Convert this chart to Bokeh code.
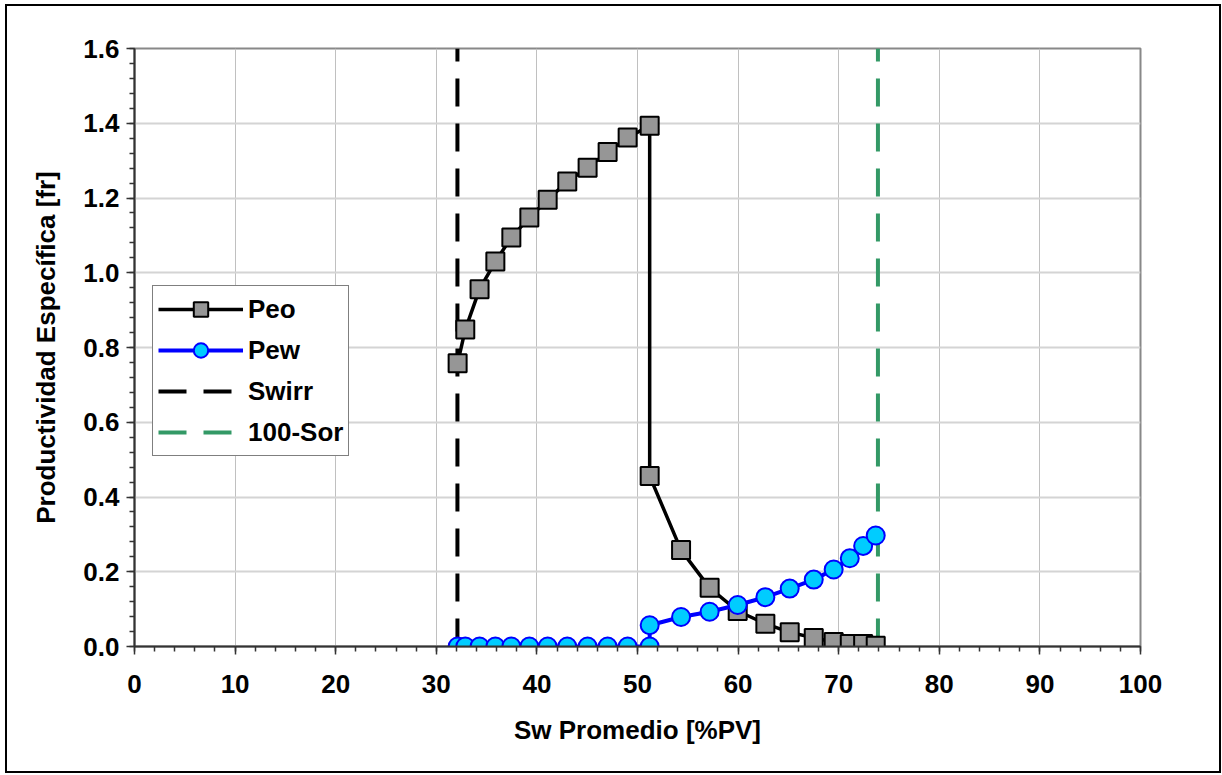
from bokeh.plotting import figure
from bokeh.layouts import column
from bokeh.models import (Range1d, FixedTicker, PrintfTickFormatter, Legend,
                          LegendItem)
from bokeh.embed import file_html
from bokeh.resources import INLINE

# ---- data ----
sw = [32.12, 32.88, 34.30, 35.87, 37.46, 39.25, 41.07, 43.02, 45.04, 47.03,
      49.02, 51.21, 51.21, 54.33, 57.17, 59.96, 62.71, 65.13, 67.52, 69.50,
      71.10, 72.43, 73.68]
peo = [0.758, 0.848, 0.956, 1.030, 1.094, 1.148, 1.195, 1.244, 1.281, 1.323,
       1.362, 1.393, 0.456, 0.258, 0.157, 0.095, 0.061, 0.038, 0.023, 0.012,
       0.007, 0.007, 0.002]
pew = [0.0, 0.0, 0.0, 0.0, 0.0, 0.0, 0.0, 0.0, 0.0, 0.0,
       0.0, 0.0, 0.057, 0.079, 0.093, 0.111, 0.132, 0.155, 0.179, 0.206,
       0.236, 0.269, 0.297]
swirr = 32.1
sor_line = 73.9
y_span = [0.0, 1.6]
x_ticks = [0, 10, 20, 30, 40, 50, 60, 70, 80, 90, 100]
y_ticks = [0.0, 0.2, 0.4, 0.6, 0.8, 1.0, 1.2, 1.4, 1.6]

FONT = "Liberation Sans"

p = figure(width=1212, height=765, x_range=Range1d(0, 100), y_range=Range1d(0, 1.6),
           output_backend="svg", toolbar_location=None,
           min_border_left=127, min_border_right=79, min_border_top=42,
           min_border_bottom=125)
p.background_fill_color = "white"
p.border_fill_color = "white"
p.outline_line_color = "#888888"
p.outline_line_width = 2

# grid
p.xgrid.grid_line_color = "#c0c0c0"
p.xgrid.grid_line_width = 1
p.ygrid.grid_line_color = "#d4d4d4"
p.ygrid.grid_line_width = 2

# axes
p.xaxis.ticker = FixedTicker(ticks=x_ticks, minor_ticks=list(range(0, 101, 2)))
p.yaxis.ticker = FixedTicker(ticks=y_ticks,
                             minor_ticks=[round(i * 0.04, 2) for i in range(41)])
p.yaxis.formatter = PrintfTickFormatter(format="%.1f")
for ax in (p.xaxis[0], p.yaxis[0]):
    ax.axis_line_color = "#333333"
    ax.axis_line_width = 2
    ax.major_tick_line_color = "#333333"
    ax.minor_tick_line_color = "#333333"
    ax.major_tick_line_width = 1.5
    ax.minor_tick_line_width = 1.5
    ax.major_tick_in = 0
    ax.major_tick_out = 8
    ax.minor_tick_in = 0
    ax.minor_tick_out = 5
    ax.major_label_text_font = FONT
    ax.major_label_text_font_style = "bold"
    ax.major_label_text_font_size = "26px"
    ax.major_label_text_color = "black"
    ax.axis_label_text_font = FONT
    ax.axis_label_text_font_style = "bold"
    ax.axis_label_text_font_size = "26px"
    ax.axis_label_text_color = "black"

p.xaxis.axis_label = "Sw Promedio [%PV]"
p.yaxis.axis_label = "Productividad Específica [fr]"
p.xaxis.major_label_standoff = 20
p.yaxis.major_label_standoff = 7
p.xaxis.axis_label_standoff = 19
p.yaxis.axis_label_standoff = 19

# vertical reference lines
r_swirr = p.line([swirr, swirr], y_span, line_color="black", line_width=4,
                 line_dash="28 17")
r_sor = p.line([sor_line, sor_line], y_span, line_color="#339966", line_width=4,
               line_dash="28 17")

# series
r_peo_l = p.line(sw, peo, line_color="black", line_width=3.5)
r_peo_m = p.scatter(sw, peo, marker="square", size=18, fill_color="#969696",
                    line_color="black", line_width=2)
r_pew_l = p.line(sw, pew, line_color="#0000ff", line_width=4)
r_pew_m = p.scatter(sw, pew, marker="circle", size=18, fill_color="#00ccff",
                    line_color="#0000ff", line_width=2)

legend = Legend(items=[
    LegendItem(label="Peo", renderers=[r_peo_l, r_peo_m]),
    LegendItem(label="Pew", renderers=[r_pew_l, r_pew_m]),
    LegendItem(label="Swirr", renderers=[r_swirr]),
    LegendItem(label="100-Sor", renderers=[r_sor]),
], location=(18, 190))
legend.glyph_width = 85
legend.glyph_height = 36
legend.label_height = 36
legend.spacing = 5
legend.padding = 5
legend.margin = 0
legend.label_standoff = 5
legend.label_text_font = FONT
legend.label_text_font_style = "bold"
legend.label_text_font_size = "26px"
legend.label_text_color = "black"
legend.border_line_color = "black"
legend.border_line_width = 1.5
legend.background_fill_color = "white"
legend.background_fill_alpha = 1
p.add_layout(legend, "center")

page = column(p, styles={"border": "2px solid black", "margin": "4px 0 0 5px"})

open("out.html", "w").write(file_html(page, INLINE))
